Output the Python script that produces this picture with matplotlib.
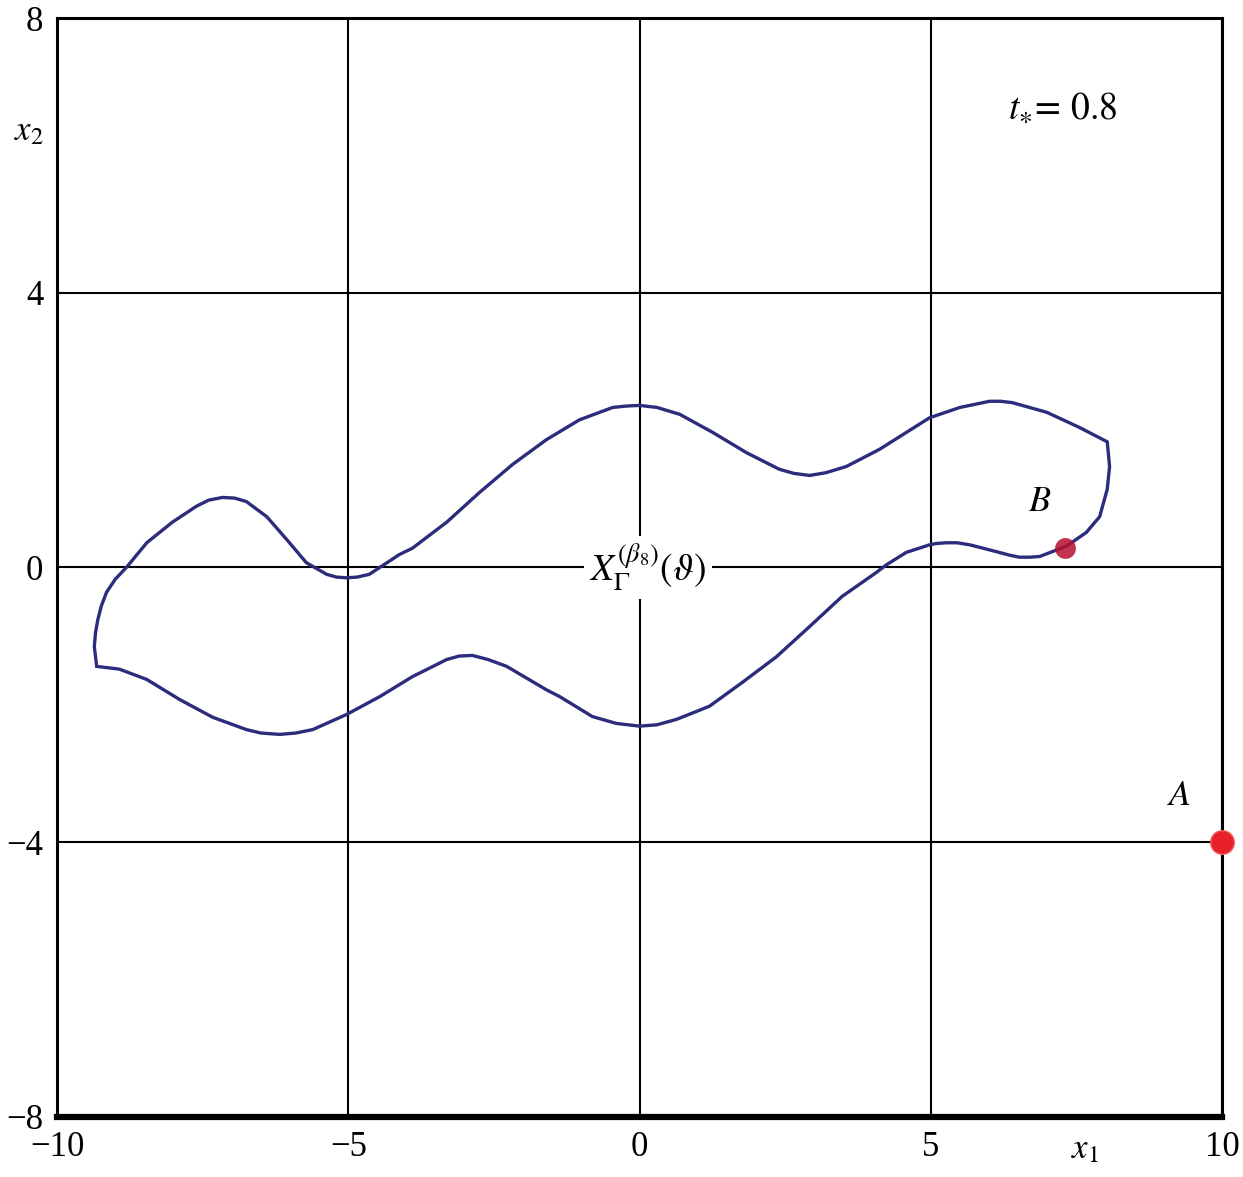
import matplotlib.pyplot as plt

plt.rcParams['font.family'] = ['Liberation Serif', 'DejaVu Serif']
plt.rcParams['mathtext.fontset'] = 'stix'

# boundary of the set (closed loop)
curve_x = [-9.32, -9.36, -9.34, -9.30, -9.24, -9.15, -9.00, -8.81, -8.46, -8.02,
           -7.61, -7.40, -7.16, -6.95, -6.75, -6.40, -6.06, -5.72, -5.37, -5.20,
           -5.03, -4.85, -4.64, -4.12, -3.90, -3.31, -2.75, -2.18, -1.60, -1.03,
           -0.46, -0.23, 0.00, 0.30, 0.69, 1.25, 1.84, 2.40, 2.65, 2.92,
           3.20, 3.55, 4.12, 4.98, 5.50, 6.01, 6.20, 6.40, 6.99, 7.55,
           8.03, 8.07, 8.03, 7.90, 7.67, 7.33, 6.87, 6.70, 6.52, 6.35,
           6.13, 5.67, 5.45, 5.27, 5.10, 4.98, 4.58, 4.24, 4.07, 3.48,
           2.92, 2.35, 1.77, 1.20, 0.64, 0.30, 0.00, -0.40, -0.81, -1.37,
           -1.60, -2.28, -2.60, -2.87, -3.10, -3.31, -3.90, -4.46, -5.03, -5.61,
           -5.90, -6.18, -6.50, -6.75, -7.33, -7.90, -8.46, -8.93, -9.32]
curve_y = [-1.44, -1.15, -0.95, -0.76, -0.56, -0.36, -0.17, 0.00, 0.36, 0.66,
           0.89, 0.98, 1.02, 1.01, 0.96, 0.74, 0.41, 0.07, -0.10, -0.14,
           -0.15, -0.14, -0.10, 0.19, 0.28, 0.66, 1.09, 1.50, 1.86, 2.15,
           2.33, 2.35, 2.36, 2.33, 2.23, 1.97, 1.67, 1.43, 1.37, 1.34,
           1.38, 1.47, 1.72, 2.18, 2.33, 2.42, 2.42, 2.40, 2.26, 2.04,
           1.83, 1.47, 1.14, 0.74, 0.51, 0.31, 0.16, 0.15, 0.15, 0.18,
           0.23, 0.33, 0.36, 0.36, 0.35, 0.33, 0.22, 0.04, -0.07, -0.42,
           -0.86, -1.30, -1.67, -2.02, -2.21, -2.29, -2.31, -2.27, -2.17, -1.88,
           -1.78, -1.44, -1.34, -1.28, -1.29, -1.34, -1.59, -1.88, -2.14, -2.36,
           -2.41, -2.43, -2.41, -2.36, -2.18, -1.92, -1.63, -1.48, -1.44]

point_A = (10.0, -4.0)
point_B = (7.30, 0.29)

x_ticks = [-10, -5, 0, 5, 10]
y_ticks = [-8, -4, 0, 4, 8]
x_labels = ['\u221210', '\u22125', '0', '5', '10']
y_labels = ['\u22128', '\u22124', '0', '4', '8']

fig = plt.figure(figsize=(12.43, 11.77), dpi=100)
ax = fig.add_axes([0.0459, 0.051, 0.9372, 0.9337])

ax.plot(curve_x, curve_y, color='#2c2c7c', lw=2.4, zorder=3,
        solid_joinstyle='round', solid_capstyle='round')
ax.plot(*point_A, 'o', ms=17, color='#e8202a', mec='#f06060', mew=1, zorder=5, clip_on=False)
ax.plot(*point_B, 'o', ms=15, color='#b8102e', alpha=0.85, mec='none', zorder=4)

ax.set_xlim(-10, 10)
ax.set_ylim(-8, 8)
ax.set_xticks(x_ticks)
ax.set_xticklabels(x_labels)
ax.set_yticks(y_ticks)
ax.set_yticklabels(y_labels)
ax.tick_params(length=0, labelsize=25, pad=10)
ax.grid(True, color='black', lw=1.5)
ax.set_axisbelow(True)

for side in ['top', 'left', 'right']:
    ax.spines[side].set_linewidth(2.2)
ax.spines['bottom'].set_linewidth(4.5)

ax.text(-10.48, 6.35, '$x_2$', fontsize=25, ha='center', va='center', clip_on=False)
ax.text(7.64, -8.47, '$x_1$', fontsize=25, ha='center', va='center', clip_on=False)
ax.text(7.26, 6.67, r'$t_{\ast}\!=\,0.8$', fontsize=27, ha='center', va='center')
ax.text(6.87, 0.95, '$B$', fontsize=26, ha='center', va='center')
ax.text(9.27, -3.33, '$A$', fontsize=26, ha='center', va='center')
ax.text(0.14, 0.0, r'$X_{\Gamma}^{(\beta_8)}(\vartheta)$', fontsize=27, ha='center', va='center',
        bbox=dict(facecolor='white', edgecolor='none', pad=4), zorder=2)

fig.savefig('out.png', dpi=100)
